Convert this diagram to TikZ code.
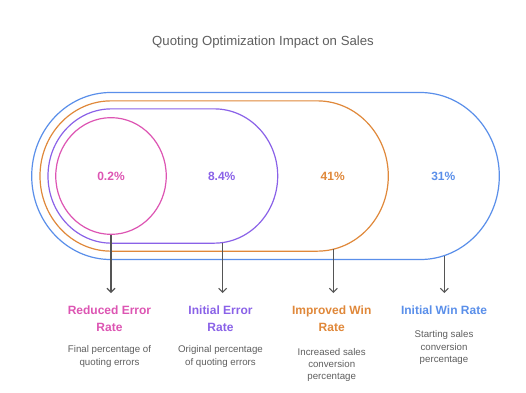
\documentclass[tikz,border=0pt]{standalone}
\usepackage{fontspec}
\setmainfont{Liberation Sans}
\usetikzlibrary{arrows.meta,shapes.geometric}
\definecolor{cpink}{HTML}{DD55B3}
\definecolor{cpurple}{HTML}{8A62E8}
\definecolor{corange}{HTML}{E0883A}
\definecolor{cblue}{HTML}{5A8FEA}
\definecolor{cgray}{HTML}{555555}
\definecolor{ctext}{HTML}{5F5F5F}
\tikzset{
  ring/.style={draw=#1, line width=1.2pt},
  val/.style={text=#1, font=\bfseries\fontsize{12}{14}\selectfont},
  ttl/.style={text=#1, font=\bfseries\fontsize{12}{16.7}\selectfont, align=center, anchor=north, inner sep=0pt},
  desc/.style={text=ctext, font=\fontsize{9.7}{12.4}\selectfont, align=center, anchor=north, inner sep=0pt},
  conn/.style={draw=cgray, line width=1.1pt, -{Straight Barb[length=4pt,width=8pt,line width=1.1pt]}}
}
% stadium: #1 left, #2 right, #3 y radius, #4 x radius
\newcommand{\stadiumpath}[4]{%
  ({#1+#4},{176-#3}) -- ({#2-#4},{176-#3})
  arc[start angle=-90, end angle=90, x radius=#4, y radius=#3]
  -- ({#1+#4},{176+#3})
  arc[start angle=90, end angle=270, x radius=#4, y radius=#3] -- cycle}
\begin{document}
\begin{tikzpicture}[x=1pt,y=-1pt]
\useasboundingbox[fill=white] (0,0) rectangle (526,392);
\node[text=ctext, font=\fontsize{13.2}{15}\selectfont] (title) at (263,42.5) {Quoting Optimization Impact on Sales};
% rings
\draw[ring=cblue] \stadiumpath{31.7}{499.3}{83.5}{79};
\draw[ring=corange] \stadiumpath{40}{388.3}{75.15}{71.1};
\draw[ring=cpurple] \stadiumpath{48}{277.7}{67.15}{63.5};
\node[ring=cpink, ellipse, inner sep=0pt, minimum width=110.5pt, minimum height=116.7pt, val=cpink] (pink) at (111,176) {0.2\%};
% values
\node[val=cpurple] (v84) at (221.7,176) {8.4\%};
\node[val=corange] (v41) at (332.7,176) {41\%};
\node[val=cblue] (v31) at (443.3,176) {31\%};
% arrow starts and ends
\coordinate (sU) at (222.7,242.5);
\coordinate (sO) at (333.3,249.2);
\coordinate (sB) at (444.3,255.5);
\coordinate (eP) at (111,293);
\coordinate (eU) at (222.7,293);
\coordinate (eO) at (333.3,293);
\coordinate (eB) at (444.3,293);
\draw[conn] (pink.south) -- (eP);
\draw[conn] (sU) -- (eU);
\draw[conn] (sO) -- (eO);
\draw[conn] (sB) -- (eB);
% labels
\node[ttl=cpink] (l1) at (109.5,305.6) {Reduced Error\\Rate};
\node[ttl=cpurple] (l2) at (220.5,305.6) {Initial Error\\Rate};
\node[ttl=corange] (l3) at (331.7,305.6) {Improved Win\\Rate};
\node[ttl=cblue] (l4) at (444,305.6) {Initial Win Rate};
\node[desc] (d1) at (109.5,345.6) {Final percentage of\\quoting errors};
\node[desc] (d2) at (220.5,345.6) {Original percentage\\of quoting errors};
\node[desc] (d3) at (331.7,347.9) {Increased sales\\conversion\\percentage};
\node[desc] (d4) at (444,330.6) {Starting sales\\conversion\\percentage};
\end{tikzpicture}
\end{document}
